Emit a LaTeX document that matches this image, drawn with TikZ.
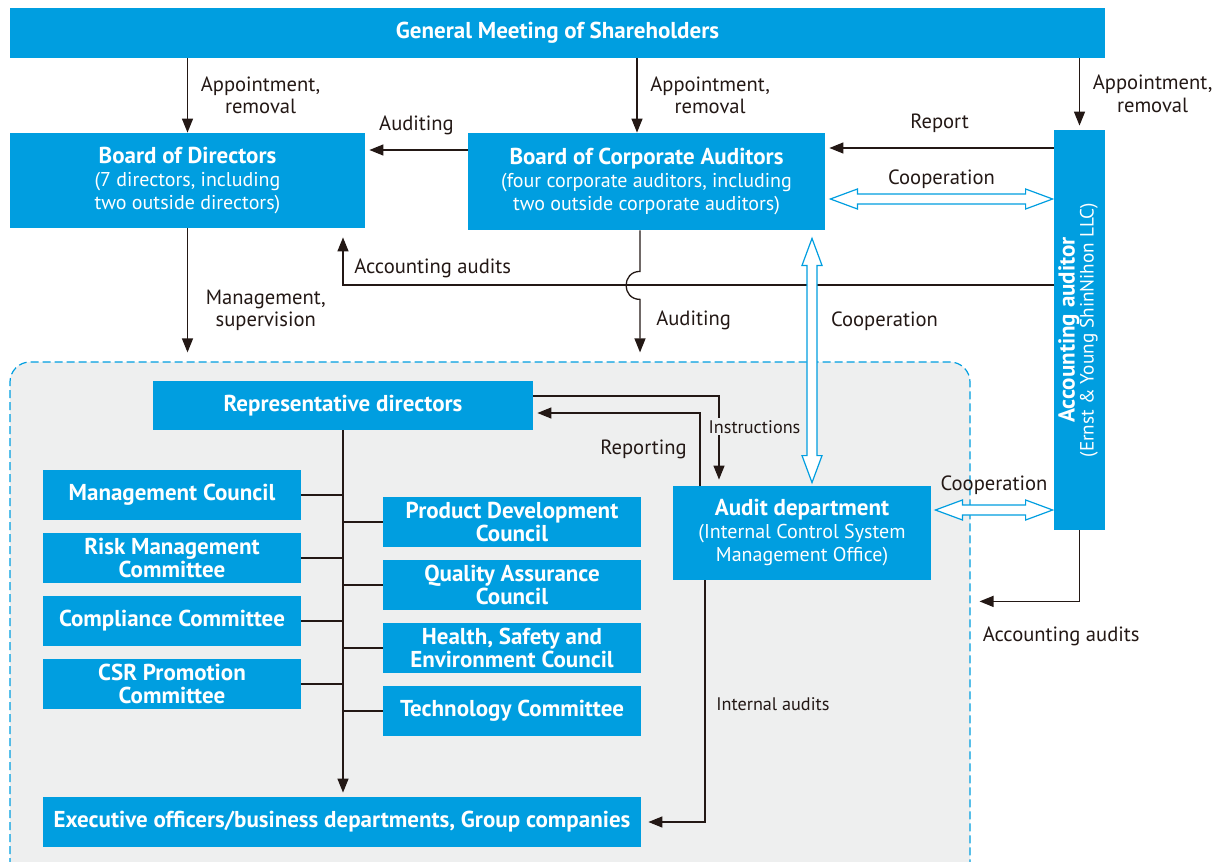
\documentclass[tikz,border=0pt]{standalone}
\usepackage{fontspec}
\usepackage{graphicx}
\setmainfont{PT Sans}
\usetikzlibrary{arrows.meta,calc}
\pgfdeclarelayer{front}
\pgfsetlayers{main,front}
\definecolor{box blue}{RGB}{0,158,224}
\definecolor{group fill}{RGB}{238,239,239}
\definecolor{ink}{RGB}{35,24,21}
\newcommand\hd[1]{{\fontsize{11.5}{11.5}\selectfont\bfseries #1}}
\tikzset{box/.style={fill=box blue, text=white, inner sep=0pt, align=center,
    font=\fontsize{10}{11.5}\selectfont},
  unit/.style={box, minimum width=129pt, minimum height=25pt,
    font=\fontsize{11.5}{11.5}\selectfont\bfseries},
  lbl/.style={text=ink, align=center, font=\fontsize{10.3}{11.2}\selectfont},
  small lbl/.style={lbl, font=\fontsize{9.1}{11}\selectfont},
  line/.style={draw=ink, line width=0.65pt},
  arr/.style={line, -{Triangle[length=7pt,width=5.5pt]}},
  coop/.style={draw=box blue, fill=white, line width=0.6pt, line join=miter}}
% hollow two-headed arrow between two named points
\newcommand\coopar[2]{%
  \draw[coop] (#1)
    -- ($(#1)!13.5pt!(#2)!5pt!90:(#2)$)
    -- ($(#1)!13.5pt!(#2)!2.5pt!90:(#2)$)
    -- ($(#2)!13.5pt!(#1)!2.5pt!-90:(#1)$)
    -- ($(#2)!13.5pt!(#1)!5pt!-90:(#1)$)
    -- (#2)
    -- ($(#2)!13.5pt!(#1)!5pt!90:(#1)$)
    -- ($(#2)!13.5pt!(#1)!2.5pt!90:(#1)$)
    -- ($(#1)!13.5pt!(#2)!2.5pt!-90:(#2)$)
    -- ($(#1)!13.5pt!(#2)!5pt!-90:(#2)$)
    -- cycle;}

\begin{document}
\begin{tikzpicture}[x=0.5pt,y=-0.5pt]
  \useasboundingbox (0,0) rectangle (1219,861);
  % executive area
  \path[fill=group fill, draw=box blue, line width=0.6pt,
    dash pattern=on 4pt off 2pt, rounded corners=10pt]
    (10,866) -- (10,362) -- (970,362) -- (970,866);

  \begin{pgfonlayer}{front}
  \node[box, minimum width=547.5pt, minimum height=25pt] (gms) at (557.5,33)
    {\hd{General Meeting of Shareholders}};
  \node[box, minimum width=177.5pt, minimum height=47.5pt] (bod) at (187.5,180.5)
    {\hd{Board of Directors}\\(7 directors, including\\two outside directors)};
  \node[box, minimum width=178.5pt, minimum height=48.5pt] (bca) at (646.5,181.5)
    {\hd{Board of Corporate Auditors}\\(four corporate auditors, including\\two outside corporate auditors)};
  \node[box, minimum width=25.5pt, minimum height=200pt] (aa) at (1079.5,330)
    {\rotatebox{90}{\begin{tabular}{@{}c@{}}\hd{Accounting auditor}\\[-2pt]
      \fontsize{9.6}{11}\selectfont(Ernst \& Young ShinNihon LLC)\end{tabular}}};

  \node[box, minimum width=190pt, minimum height=24.5pt] (rep) at (343,405.5)
    {\hd{Representative directors}};
  \node[box, minimum width=129pt, minimum height=47pt] (aud) at (802,533)
    {\hd{Audit department}\\(Internal Control System\\Management Office)};

  \node[unit] (mc) at (172,495) {Management Council};
  \node[unit] (rmc) at (172,558) {Risk Management\\Committee};
  \node[unit] (cc) at (172,621) {Compliance Committee};
  \node[unit] (csr) at (172,684) {CSR Promotion\\Committee};
  \node[unit] (pdc) at (512,522) {Product Development\\Council};
  \node[unit] (qac) at (512,585) {Quality Assurance\\Council};
  \node[unit] (hse) at (512,648) {Health, Safety and\\Environment Council};
  \node[unit] (tc) at (512,711) {Technology Committee};
  \node[unit, minimum width=299pt] (exec) at (342,822)
    {Executive officers/business departments, Group companies};
  \end{pgfonlayer}

  % appointment
  \coordinate (bcax) at ([xshift=-4.75pt]bca.north);
  \draw[arr] (gms.south -| bod.north) -- (bod.north)
    node[lbl, midway, right=3pt] {Appointment,\\removal};
  \draw[arr] (gms.south -| bcax) -- (bcax)
    node[lbl, midway, right=3pt] {Appointment,\\removal};
  \draw[arr, shorten >=2pt] (gms.south -| aa.north) -- (aa.north)
    node[lbl, midway, right=3pt] {Appointment,\\removal};

  \draw[arr, shorten >=2pt] ([yshift=15.75pt]bca.west) -- ([yshift=15.25pt]bod.east)
    node[lbl, midway, above=4pt] {Auditing};
  \draw[arr, shorten >=2pt] ([yshift=91pt]aa.west) -- ([yshift=16.75pt]bca.east)
    node[lbl, midway, above=4pt] {Report};

  \coordinate (acc) at ([xshift=77.75pt]bod.south);
  \draw[arr, shorten >=4.5pt] ([yshift=22.5pt]aa.west) -| (acc)
    node[lbl, pos=0.5, anchor=south west, xshift=2pt] {Accounting audits};
  \draw[arr] ([xshift=-3.25pt]bca.south) -- ++(0,41)
    to[out=180, in=180, looseness=1.7] ++(0,28) -- ++(0,53)
    node[lbl, pos=0.4, right=4.5pt] {Auditing};
  \draw[arr] (bod.south) -- ++(0,124)
    node[lbl, pos=0.66, right=5.5pt] {Management,\\supervision};

  % cooperation
  \coordinate (c1a) at ([xshift=2.5pt,yshift=-8.75pt]bca.east);
  \coordinate (c1b) at ([xshift=-0.5pt,yshift=65.5pt]aa.west);
  \coordinate (c2a) at ([xshift=82.75pt,yshift=-4pt]bca.south);
  \coordinate (c2b) at ([xshift=5pt,yshift=1.5pt]aud.north);
  \coordinate (c3a) at ([xshift=2pt,yshift=11.5pt]aud.east);
  \coordinate (c3b) at ([xshift=-0.5pt,yshift=-90pt]aa.west);
  \coopar{c1a}{c1b}
  \coopar{c2a}{c2b}
  \coopar{c3a}{c3b}
  \node[lbl, above=1.5pt] at ($(c1a)!.5!(c1b)$) {Cooperation};
  \node[lbl, anchor=west, xshift=6pt] at ($(c2a)!.34!(c2b)$) {Cooperation};
  \node[lbl, above=4pt] at ($(c3a)!.5!(c3b)$) {Cooperation};

  % inside the company
  \draw[arr, shorten >=2pt] (rep.south) -- (rep.south |- exec.north);
  \foreach \n in {mc,rmc,cc,csr}
    \draw[line] (\n.east) -- (\n.east -| rep.south);
  \foreach \n in {pdc,qac,hse,tc}
    \draw[line] (\n.west) -- (\n.west -| rep.south);

  \draw[arr] ([yshift=4.75pt]rep.east) -| ([xshift=-41.5pt,yshift=3pt]aud.north)
    node[small lbl, pos=0.685, anchor=west, fill=group fill, inner sep=1pt, xshift=-6.5pt] {Instructions};
  \draw[arr, shorten >=2pt] ([xshift=-51pt]aud.north) |- ([yshift=-3.75pt]rep.east)
    node[lbl, pos=0.25, anchor=east, xshift=-3pt] {Reporting};
  \draw[arr, shorten >=3.5pt] ([xshift=-48.5pt]aud.south) |- (exec.east)
    node[small lbl, pos=0.256, right=2pt] {Internal audits};
  \draw[arr] (aa.south) |- ++(-100,71)
    node[lbl, pos=1, anchor=north west, yshift=-9pt, xshift=-2pt] {Accounting audits};
\end{tikzpicture}
\end{document}
